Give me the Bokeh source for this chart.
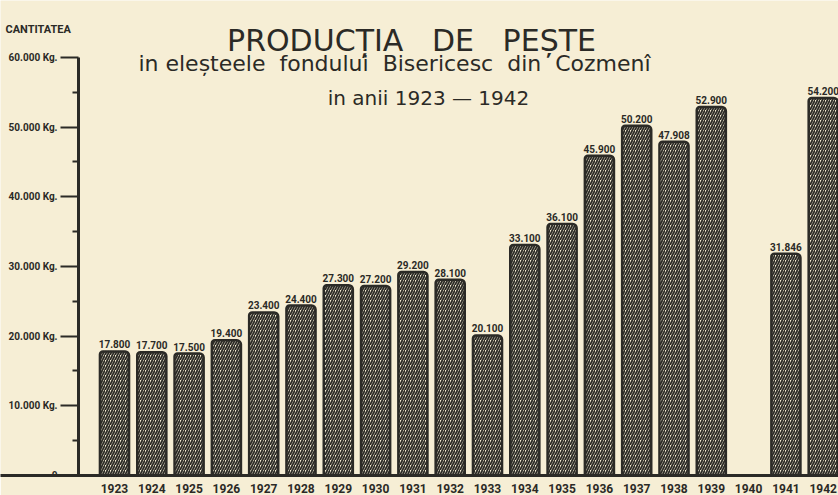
from bokeh.plotting import figure
from bokeh.models import Range1d, FixedTicker, ColumnDataSource, Label
from bokeh.embed import file_html
from bokeh.resources import INLINE
from bokeh.core.properties import value
import math

years = [1923, 1924, 1925, 1926, 1927, 1928, 1929, 1930, 1931, 1932,
         1933, 1934, 1935, 1936, 1937, 1938, 1939, 1940, 1941, 1942]
quantities = [17800, 17700, 17500, 19400, 23400, 24400, 27300, 27200, 29200, 28100,
              20100, 33100, 36100, 45900, 50200, 47908, 52900, float("nan"), 31846, 54200]
y_ticks = [0, 10000, 20000, 30000, 40000, 50000, 60000]
y_tick_labels = ["0", "10.000 Kg.", "20.000 Kg.", "30.000 Kg.", "40.000 Kg.", "50.000 Kg.", "60.000 Kg."]
y_minor = [5000, 15000, 25000, 35000, 45000, 55000]

NB = "\u00a0"
title_1 = f"PRODUCȚIA{NB*3}DE{NB*3}PEȘTE"
title_2 = f"in eleșteele{NB*2}fondului{NB*2}Bisericesc{NB*2}din{NB*2}Cozmenî"
title_3 = f"in anii{NB}1923 — 1942"
y_title = "CANTITATEA"

BG = "#f6eed5"
INK = "#2b2a26"
SMALL = "Roboto"

def fmt(v):
    if v is None or (isinstance(v, float) and math.isnan(v)):
        return ""
    return f"{int(v):,}".replace(",", ".")

src = ColumnDataSource(dict(x=years, top=quantities, label=[fmt(v) for v in quantities]))

X0, X1 = 1919.944, 1942.41
p = figure(width=838, height=495, output_backend="svg", toolbar_location=None,
           x_range=Range1d(X0, X1), y_range=Range1d(0, 68180),
           min_border_left=0, min_border_right=0, min_border_top=0, min_border_bottom=20)
p.background_fill_color = BG
p.border_fill_color = BG
p.outline_line_color = None
p.grid.visible = False

p.vbar(x="x", top="top", width=0.78, source=src, fill_color=BG,
       line_color=INK, line_width=2.5, hatch_pattern="/", hatch_color=INK,
       hatch_scale=5, hatch_weight=1.8, border_radius=(3, 4, 0, 0))

p.text(x="x", y="top", text="label", source=src, text_align="center",
       text_baseline="bottom", y_offset=-3, text_font_size="10px",
       text_font=value(SMALL), text_font_style="bold", text_color=INK)

p.xaxis.ticker = FixedTicker(ticks=years)
p.xaxis.major_tick_line_color = None
p.xaxis.minor_tick_line_color = None
p.xaxis.axis_line_width = 3
p.xaxis.axis_line_color = INK
p.xaxis.major_label_text_font = SMALL
p.xaxis.major_label_text_font_style = "bold"
p.xaxis.major_label_text_font_size = "12px"
p.xaxis.major_label_text_color = INK
p.xaxis.major_label_standoff = 2

p.yaxis.fixed_location = 1922.035
p.yaxis.ticker = FixedTicker(ticks=y_ticks, minor_ticks=y_minor)
p.yaxis.major_label_overrides = {t: l for t, l in zip(y_ticks, y_tick_labels)}
p.yaxis.bounds = (0, 60000)
p.yaxis.axis_line_width = 3
p.yaxis.axis_line_color = INK
p.yaxis.major_tick_out = 18
p.yaxis.major_tick_in = 0
p.yaxis.major_tick_line_width = 2
p.yaxis.major_tick_line_color = INK
p.yaxis.minor_tick_out = 6
p.yaxis.minor_tick_in = 0
p.yaxis.minor_tick_line_width = 2
p.yaxis.minor_tick_line_color = INK
p.yaxis.major_label_text_font = SMALL
p.yaxis.major_label_text_font_style = "bold"
p.yaxis.major_label_text_font_size = "10px"
p.yaxis.major_label_text_color = INK
p.yaxis.major_label_standoff = 3

p.add_layout(Label(x=1930.963, y=62437, text=title_1, text_align="center",
                   text_baseline="alphabetic", text_font="DejaVu Sans",
                   text_font_size="30px", text_color=INK))
p.add_layout(Label(x=1930.507, y=59136, text=title_2, text_align="center",
                   text_baseline="alphabetic", text_font="DejaVu Sans",
                   text_font_size="22px", text_color=INK))
p.add_layout(Label(x=1931.418, y=54256, text=title_3, text_align="center",
                   text_baseline="alphabetic", text_font="DejaVu Sans",
                   text_font_size="20px", text_color=INK))
p.add_layout(Label(x=1920.078, y=64017, text=y_title, text_align="left",
                   text_baseline="middle", text_font=SMALL,
                   text_font_style="bold", text_font_size="11px", text_color=INK))

open("out.html", "w").write(file_html(p, INLINE))
